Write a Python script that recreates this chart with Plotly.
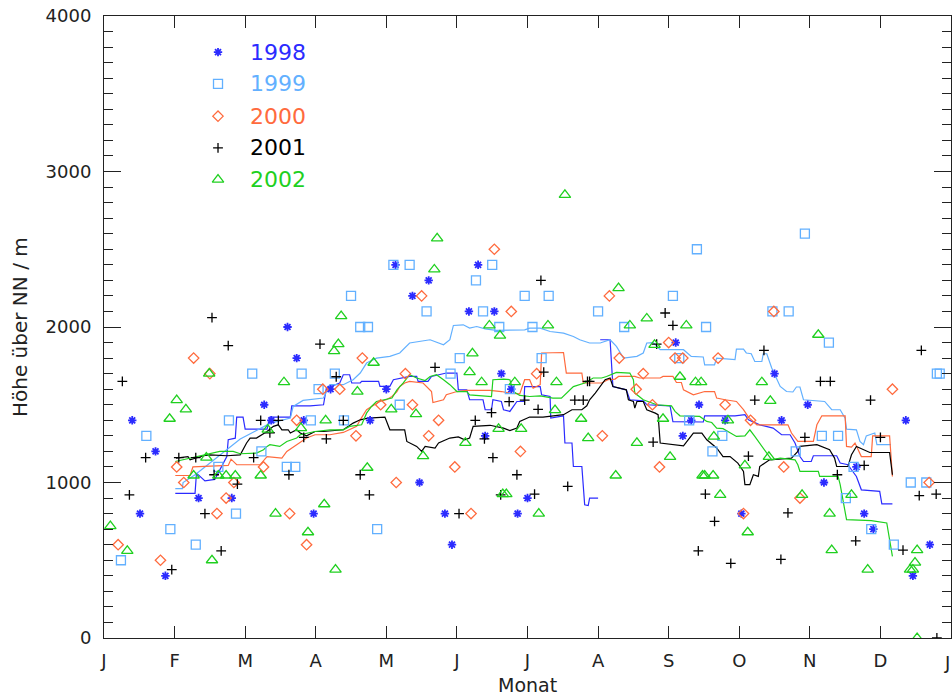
import plotly.graph_objects as go

# ---------------------------------------------------------------------------
# Axis labelling
MONTH_LABELS = ["J", "F", "M", "A", "M", "J", "J", "A", "S", "O", "N", "D", ""]
MONTH_TICKS = list(range(13))
LAST_MONTH_LABEL = "J"
HEIGHT_TICKS = [0, 1000, 2000, 3000, 4000]

YEARS = ["1998", "1999", "2000", "2001", "2002"]
COLORS = {"1998": "#2b2bff", "1999": "#62b0ff", "2000": "#ff6a3d",
          "2001": "#000000", "2002": "#1fd01f"}
SYMBOLS = {"1998": "asterisk-open", "1999": "square-open", "2000": "diamond-open",
           "2001": "cross-thin-open", "2002": "triangle-up-open"}
SIZES = {"1998": 7, "1999": 9, "2000": 8, "2001": 7, "2002": 10}
LINEW = {"1998": 1.8, "1999": 1.3, "2000": 1.3, "2001": 1.3, "2002": 1.3}

# ---------------------------------------------------------------------------
# Single observations: position in months (0 = 1 Jan, 12 = end of Dec), height in m
obs_1998_month = [0.40, 0.51, 0.73, 0.87, 1.34, 1.81, 2.27, 2.37, 2.60, 2.73, 2.83, 2.97,
                  3.21, 3.77, 4.00, 4.13, 4.37, 4.47, 4.60, 4.83, 4.93, 5.17, 5.30, 5.40,
                  5.53, 5.63, 5.77, 5.86, 6.00, 8.10, 8.20, 8.32, 8.43, 8.80, 9.03, 9.50,
                  9.60, 9.97, 10.20, 10.66, 10.77, 10.90, 11.36, 11.46, 11.70]
obs_1998_height = [1400, 800, 1200, 400, 900, 900, 1500, 1400, 2000, 1800, 1400, 800,
                   1600, 1400, 1600, 2400, 2200, 1000, 2300, 800, 600, 2100, 2400, 1300,
                   2100, 1700, 1600, 800, 900, 1900, 1300, 1400, 1500, 1400, 800, 1700,
                   1400, 1500, 1000, 1100, 800, 700, 1400, 400, 600]

obs_1999_month = [0.24, 0.60, 0.94, 1.30, 1.62, 1.77, 1.87, 2.10, 2.23, 2.59,
                  2.71, 2.80, 2.93, 3.04, 3.27, 3.40, 3.50, 3.63, 3.74, 3.87,
                  4.10, 4.19, 4.33, 4.57, 4.91, 5.04, 5.27, 5.37, 5.50, 5.60,
                  5.75, 5.96, 6.07, 6.20, 6.30, 7.00, 7.37, 8.06, 8.15, 8.29,
                  8.40, 8.53, 8.62, 8.76, 9.47, 9.70, 9.80, 9.93, 10.17, 10.27,
                  10.40, 10.51, 10.62, 10.87, 11.19, 11.43, 11.65, 11.80, 11.84]
obs_1999_height = [500, 1300, 700, 600, 1100, 1400, 800, 1700, 1200, 1100,
                   1100, 1700, 1400, 1600, 1700, 1400, 2200, 2000, 2000, 700,
                   2400, 1500, 2400, 2100, 1700, 1800, 2300, 2100, 2400, 2000,
                   1600, 2200, 2000, 1800, 2200, 2100, 2000, 2200, 1800, 1400,
                   2500, 2000, 1200, 1300, 2100, 2100, 1200, 2600, 1300, 1900,
                   1300, 900, 1100, 700, 600, 1000, 1000, 1700, 1700]

obs_2000_month = [0.20, 0.80, 1.03, 1.13, 1.27, 1.50, 1.60, 1.73, 1.84, 2.26,
                  2.63, 2.73, 2.87, 3.10, 3.34, 3.57, 3.66, 3.92, 4.14, 4.27,
                  4.37, 4.50, 4.60, 4.74, 4.97, 5.20, 5.53, 5.77, 5.90, 6.13,
                  7.06, 7.16, 7.30, 7.54, 7.64, 7.77, 7.87, 8.00, 8.09, 8.20,
                  8.70, 8.80, 9.06, 9.16, 9.49, 9.63, 9.86, 11.17, 11.69]
obs_2000_height = [600, 500, 1100, 1000, 1800, 1700, 800, 900, 1000, 1100,
                   800, 1400, 600, 1600, 1600, 1300, 1800, 1500, 1000, 1700,
                   1500, 2200, 1300, 1400, 1100, 800, 2500, 2100, 1200, 1700,
                   1300, 2200, 1800, 1600, 1700, 1500, 1100, 1900, 1800, 1800,
                   1800, 1500, 800, 1400, 2100, 1100, 900, 1600, 1000]

obs_2001_month = [0.26, 0.36, 0.59, 0.96, 1.06, 1.30, 1.43, 1.53, 1.56, 1.66,
                  1.76, 1.89, 2.12, 2.22, 2.35, 2.47, 2.62, 2.83, 3.06, 3.15,
                  3.29, 3.39, 3.63, 3.76, 4.69, 5.03, 5.26, 5.39, 5.49, 5.51,
                  5.62, 5.74, 5.85, 5.96, 6.10, 6.15, 6.19, 6.23, 6.57, 6.67,
                  6.79, 6.85, 6.88, 7.78, 7.83, 7.95, 8.06, 8.42, 8.52, 8.65,
                  8.88, 9.13, 9.22, 9.35, 9.59, 9.69, 9.93, 10.15, 10.29, 10.39,
                  10.65, 10.77, 10.86, 11.00, 11.32, 11.55, 11.58, 11.79, 11.80]
obs_2001_height = [1650, 920, 1160, 440, 1160, 1160, 800, 2060, 1050, 560,
                   1880, 990, 1160, 1400, 1320, 1400, 1050, 1290, 1890, 1280,
                   1680, 1400, 1050, 920, 1740, 800, 1400, 1280, 1450, 1160,
                   920, 1520, 1050, 1530, 925, 1470, 2300, 1710, 975, 1530,
                   1530, 1650, 1650, 1260, 1890, 2090, 2010, 560, 925, 750,
                   480, 1170, 1530, 1850, 505, 805, 1290, 1650, 1650, 1050,
                   625, 1110, 1530, 1290, 565, 915, 1850, 925, 0]

obs_2002_month = [0.09, 0.33, 0.93, 1.03, 1.16, 1.27, 1.45, 1.49, 1.53, 1.62,
                  1.73, 1.86, 2.22, 2.32, 2.43, 2.55, 2.79, 2.89, 3.12, 3.14,
                  3.26, 3.28, 3.32, 3.36, 3.59, 3.73, 3.82, 4.07, 4.42, 4.52,
                  4.68, 4.72, 5.12, 5.18, 5.22, 5.35, 5.46, 5.59, 5.61, 5.65,
                  5.70, 5.82, 5.91, 6.16, 6.29, 6.39, 6.41, 6.53, 6.76, 6.86,
                  7.25, 7.29, 7.45, 7.55, 7.69, 7.80, 7.92, 8.02, 8.16, 8.25,
                  8.38, 8.46, 8.48, 8.51, 8.63, 8.64, 8.73, 8.84, 9.08, 9.12,
                  9.32, 9.42, 9.44, 9.89, 10.12, 10.28, 10.31, 10.59, 10.82, 11.42,
                  11.46, 11.49, 11.52, 11.52]
obs_2002_height = [720, 560, 1410, 1530, 1470, 1045, 1160, 1700, 500, 1045,
                   1045, 1045, 1045, 1340, 800, 1645, 1350, 680, 860, 1400,
                   1845, 440, 1890, 2070, 1585, 1095, 1770, 1470, 1440, 1170,
                   2370, 2570, 1255, 1710, 1830, 1645, 2010, 1345, 1945, 925,
                   925, 1645, 1345, 800, 2010, 1465, 1645, 2850, 1410, 1285,
                   1045, 2250, 2010, 1255, 2055, 1885, 1410, 1165, 1680, 2010,
                   1645, 1645, 1045, 1045, 1045, 1295, 920, 1400, 1110, 680,
                   1645, 1165, 1525, 920, 1950, 800, 565, 920, 440, 440,
                   440, 485, 565, 0]

# ---------------------------------------------------------------------------
# Running-mean curves (None separates interrupted stretches)
run_1998_month = [1.01, 1.29, 1.31, 1.43, 1.57, 1.64, 1.74, 1.76, 1.86, 1.88, 1.97, 2.00,
                  2.31, 2.35, 2.64, 2.66, 2.92, 3.11, 3.15, 3.34, 3.39, 3.48, 3.51, 3.63,
                  3.65, 3.89, 3.91, 4.05, 4.10, 4.33, 4.43, 4.45, 4.59, 4.64, 4.85, 5.00,
                  5.02, 5.14, 5.18, 5.37, 5.40, 5.49, 5.51, 5.63, 5.66, 5.75, 5.85, 5.95,
                  5.96, 6.18, 6.20, 6.32, 6.33, 6.51, 6.53, 6.63, 6.65, 6.77, 6.79, 6.81,
                  6.86, 6.88, 7.00, None,
                  7.03, 7.17, 7.21, 7.40, 7.45, 7.64, 7.69, 8.02, 8.06, 8.49, 8.51, 8.94,
                  9.08, 9.13, 9.29, 9.48, 9.60, 9.72, 9.79, 9.86, 9.91, 10.02, 10.05, 10.38,
                  10.43, 10.54, 10.59, 10.66, 10.73, 10.99, 11.02, 11.17]
run_1998_height = [930, 930, 1060, 1010, 1020, 1080, 1167, 1275, 1285, 1420, 1420, 1343,
                   1343, 1420, 1420, 1493, 1493, 1500, 1607, 1640, 1693, 1693, 1640, 1640,
                   1650, 1650, 1618, 1618, 1661, 1682, 1682, 1650, 1650, 1682, 1704, 1704,
                   1596, 1596, 1532, 1532, 1468, 1468, 1532, 1521, 1468, 1457, 1521, 1521,
                   1617, 1617, 1564, 1553, 1414, 1429, 1254, 1254, 1103, 1103, 953, 857,
                   852, 900, 900, None,
                   1918, 1918, 1617, 1596, 1532, 1525, 1500, 1493, 1392, 1389, 1429, 1429,
                   1436, 1403, 1371, 1350, 1307, 1307, 1254, 1167, 1135, 1135, 1172, 1172,
                   1125, 1114, 1082, 1039, 953, 943, 862, 862]

run_1999_month = [1.01, 1.11, 1.12, 1.29, 1.43, 1.57, 1.71, 1.93, 2.14, 2.35, 2.64, 2.68,
                  2.82, 2.92, 3.11, 3.20, 3.39, 3.53, 3.63, 3.72, 3.86, 4.05, 4.19, 4.33,
                  4.62, 4.81, 4.90, 4.95, 5.09, 5.18, 5.28, 5.40, 5.56, 5.96, 6.03, 6.18,
                  6.32, 6.51, 6.65, 6.74, 6.88, 7.03, 7.17, 7.26, 7.36, 7.55, 7.64, 7.69,
                  7.78, 7.88, 8.21, 8.32, 8.49, 8.51, 8.65, 8.68, 8.94, 8.96, 9.06, 9.10,
                  9.17, 9.22, 9.32, 9.34, 9.39, 9.46, 9.58, 9.67, 9.76, 9.81, 9.86, 9.91,
                  10.21, 10.31, 10.43, 10.50, 10.52, 10.66, 10.71, 10.76, 10.80, 10.92,
                  10.95, 11.15]
run_1999_height = [960, 960, 1000, 1050, 1100, 1150, 1200, 1280, 1330, 1380, 1414, 1489,
                   1528, 1532, 1543, 1629, 1629, 1661, 1704, 1768, 1800, 1811, 1833, 1897,
                   1918, 1886, 1918, 2010, 2014, 1993, 2003, 1988, 1978, 1982, 1993, 1993,
                   1971, 1961, 1939, 1918, 1897, 1897, 1918, 1875, 1800, 1811, 1833, 1897,
                   1900, 1854, 1854, 1811, 1807, 1757, 1757, 1800, 1790, 1858, 1858, 1833,
                   1828, 1778, 1778, 1828, 1828, 1736, 1618, 1585, 1582, 1614, 1614, 1532,
                   1521, 1468, 1468, 1414, 1343, 1339, 1264, 1243, 1300, 1318,
                   1243, 1243]

run_2000_month = [1.01, 1.22, 1.26, 1.76, 1.80, 1.88, 2.21, 2.31, 2.52, 2.59, 2.73, 2.87,
                  2.99, 3.20, 3.39, 3.48, 3.58, 3.63, 3.72, 3.79, 3.91, 4.00, 4.08, 4.15,
                  4.19, 4.26, 4.33, 4.52, 4.57, 4.64, 4.66, 4.81, 4.85, 5.00, 5.14, 5.47,
                  5.63, 5.75, 5.89, 5.96, 6.03, 6.08, 6.18, 6.20, 6.51, 6.55, 6.77, 6.79,
                  7.05, 7.14, 7.24, 7.29, 7.52, 7.59, 7.88, 7.92, 8.06, 8.11, 8.18, 8.21,
                  8.35, 8.51, 8.65, 8.68, 8.80, 8.96, 9.06, 9.13, 9.25, 9.69, 9.74, 9.83,
                  10.05, 10.10, 10.17, 10.50, 10.52, 10.59, 10.64, 10.73, 10.87, 10.89,
                  11.13, 11.17]
run_2000_height = [1045, 1045, 1100, 1110, 1150, 1114, 1114, 1167, 1157, 1200, 1243, 1286,
                   1307, 1307, 1322, 1339, 1361, 1403, 1468, 1489, 1521, 1532, 1553, 1585,
                   1618, 1640, 1650, 1640, 1618, 1585, 1514, 1532, 1564, 1585, 1592, 1592,
                   1585, 1575, 1570, 1661, 1661, 1607, 1629, 1833, 1836, 1704, 1704, 1640,
                   1640, 1661, 1665, 1682, 1682, 1672, 1672, 1682, 1682, 1643, 1643, 1596,
                   1564, 1585, 1585, 1543, 1532, 1521, 1468, 1420, 1371, 1371, 1318, 1264,
                   1264, 1371, 1429, 1429, 1232, 1228, 1254, 1167, 1167, 1300,
                   1300, 1039]

run_2001_month = [1.02, 1.19, 1.22, 1.31, 1.41, 1.50, 1.74, 1.93, 2.02, 2.07, 2.16, 2.31,
                  2.40, 2.47, 2.52, 2.61, 2.64, 2.73, 2.78, 2.87, 2.99, 3.11, 3.39, 3.53,
                  3.63, 3.74, 3.98, 4.05, 4.26, 4.29, 4.43, 4.50, 4.55, 4.69, 4.74, 4.90,
                  5.02, 5.11, 5.18, 5.23, 5.47, 5.66, 5.75, 5.85, 5.89, 6.03, 6.22, 6.51,
                  6.63, 6.77, 6.84, 6.88, 6.96, 7.10, 7.17, 7.21, 7.40, 7.43, 7.50, 7.52,
                  7.55, 7.64, 7.69, 7.81, 7.85, 7.88, 8.21, 8.35, 8.47, 8.54, 8.68, 8.77,
                  8.87, 8.98, 9.06, 9.08, 9.15, 9.20, 9.27, 9.29, 9.43, 9.74, 9.83, 9.86,
                  10.10, 10.28, 10.35, 10.38, 10.54, 10.59, 10.66, 10.85, 11.13, 11.17]
run_2001_height = [1157, 1167, 1146, 1157, 1172, 1178, 1172, 1178, 1254, 1286, 1286, 1328,
                   1361, 1371, 1339, 1339, 1318, 1339, 1318, 1300, 1328, 1328, 1339, 1382,
                   1403, 1414, 1421, 1339, 1339, 1264, 1232, 1200, 1232, 1222, 1254, 1286,
                   1293, 1275, 1286, 1361, 1368, 1350, 1334, 1350, 1392, 1421, 1421, 1436,
                   1468, 1468, 1493, 1532, 1575, 1661, 1672, 1617, 1596, 1532, 1521, 1479,
                   1521, 1521, 1468, 1446, 1436, 1254, 1236, 1318, 1318, 1275, 1222, 1167,
                   1167, 1125, 1071, 986, 986, 1050, 1039, 1103, 1146, 1157, 1200, 1232,
                   1243, 1211, 1157, 1103, 1103, 1178, 1232, 1193, 1193, 1050]

run_2002_month = [1.01, 1.31, 1.55, 1.64, 1.83, 1.93, 2.16, 2.26, 2.31, 2.35, 2.49, 2.59,
                  2.73, 2.78, 2.99, 3.20, 3.39, 3.48, 3.65, 3.72, 3.79, 3.86, 4.08, 4.15,
                  4.24, 4.31, 4.33, 4.43, 4.55, 4.62, 4.71, 4.81, 4.90, 5.00, 5.14, 5.18,
                  5.49, 5.51, 5.66, 5.75, 5.80, 5.89, 6.03, 6.18, 6.36, 6.48, 6.65, 6.81,
                  6.93, 7.05, 7.12, 7.26, 7.45, 7.50, 7.52, 7.64, 7.83, 8.04, 8.09, 8.16,
                  8.44, 8.54, 8.61, 8.68, 8.77, 8.87, 8.96, 9.08, 9.15, 9.22, 9.29, 9.39,
                  9.46, 9.58, 9.79, 9.83, 9.86, 10.12, 10.14, 10.40, 10.43, 10.52, 10.87,
                  11.09, 11.17]
run_2002_height = [1135, 1167, 1189, 1200, 1200, 1185, 1189, 1211, 1232, 1243, 1232, 1264,
                   1286, 1307, 1328, 1339, 1339, 1361, 1371, 1446, 1489, 1521, 1543, 1596,
                   1640, 1682, 1693, 1672, 1656, 1682, 1693, 1661, 1629, 1585, 1585, 1564,
                   1553, 1661, 1665, 1661, 1585, 1560, 1553, 1557, 1543, 1543, 1617, 1640,
                   1672, 1672, 1682, 1708, 1704, 1661, 1575, 1532, 1500, 1493, 1457, 1429,
                   1425, 1393, 1386, 1350, 1346, 1320, 1296, 1300, 1339, 1296, 1254, 1189,
                   1146, 1157, 1146, 1114, 1071, 1071, 1039, 1039, 986, 761, 755,
                   740, 525]

OBS = {
    "1998": (obs_1998_month, obs_1998_height),
    "1999": (obs_1999_month, obs_1999_height),
    "2000": (obs_2000_month, obs_2000_height),
    "2001": (obs_2001_month, obs_2001_height),
    "2002": (obs_2002_month, obs_2002_height),
}
RUN = {
    "1998": (run_1998_month, run_1998_height),
    "1999": (run_1999_month, run_1999_height),
    "2000": (run_2000_month, run_2000_height),
    "2001": (run_2001_month, run_2001_height),
    "2002": (run_2002_month, run_2002_height),
}

FONT = "DejaVu Sans"
TEXT_COL = "#222222"
fig = go.Figure()

# running means first, then the single observations on top
for yr in YEARS:
    mx, hy = RUN[yr]
    fig.add_trace(go.Scatter(x=mx, y=hy, mode="lines", connectgaps=False,
                             line=dict(color=COLORS[yr], width=1.2),
                             hoverinfo="skip", showlegend=False))

for yr in YEARS:
    mx, hy = OBS[yr]
    fig.add_trace(go.Scatter(
        x=mx, y=hy, mode="markers", name=yr, showlegend=False,
        marker=dict(symbol=SYMBOLS[yr], size=SIZES[yr], color=COLORS[yr],
                    line=dict(color=COLORS[yr], width=LINEW[yr]))))

# key in the upper left corner (drawn on a hidden 0..1 overlay)
key_rows = [0.942, 0.891, 0.839, 0.788, 0.737]
for yr, ky in zip(YEARS, key_rows):
    fig.add_trace(go.Scatter(
        x=[0.1346], y=[ky], xaxis="x2", yaxis="y2", mode="markers",
        showlegend=False, hoverinfo="skip",
        marker=dict(symbol=SYMBOLS[yr], size=SIZES[yr], color=COLORS[yr],
                    line=dict(color=COLORS[yr], width=LINEW[yr]))))
    fig.add_annotation(x=0.170, y=ky, xref="paper", yref="paper", text=yr,
                       showarrow=False, xanchor="left", yanchor="middle",
                       font=dict(family=FONT, size=22, color=COLORS[yr]))

axis_col = "#222222"
fig.update_layout(
    width=952, height=697,
    margin=dict(l=104, r=1, t=16, b=59),
    paper_bgcolor="white", plot_bgcolor="white",
    showlegend=False,
    xaxis=dict(range=[0, 12], tickvals=MONTH_TICKS, ticktext=MONTH_LABELS,
               ticks="inside", ticklen=12, tickwidth=1, tickcolor=axis_col,
               showline=True, linecolor=axis_col, linewidth=1, mirror="ticks",
               showgrid=False, zeroline=False, ticklabelstandoff=6,
               tickfont=dict(family=FONT, size=18, color=TEXT_COL)),
    yaxis=dict(range=[0, 4000], tickvals=HEIGHT_TICKS,
               ticks="inside", ticklen=17, tickwidth=1, tickcolor=axis_col,
               minor=dict(dtick=100, ticks="inside", ticklen=9, tickwidth=1,
                          tickcolor=axis_col, showgrid=False),
               showline=True, linecolor=axis_col, linewidth=1, mirror="ticks",
               showgrid=False, zeroline=False, ticklabelstandoff=8,
               tickfont=dict(family=FONT, size=18, color=TEXT_COL)),
    xaxis2=dict(overlaying="x", range=[0, 1], visible=False, anchor="y2"),
    yaxis2=dict(overlaying="y", range=[0, 1], visible=False, anchor="x2"),
)

# month label at the right end of the axis, nudged inside the page
fig.add_annotation(x=12, y=0, xref="x", yref="paper", yshift=-24, xshift=-4,
                   text=LAST_MONTH_LABEL, showarrow=False,
                   xanchor="center", yanchor="middle",
                   font=dict(family=FONT, size=18, color=TEXT_COL))

fig.add_annotation(x=0, y=0.5, xref="paper", yref="paper", xshift=-84,
                   text="Höhe über NN / m", textangle=-90, showarrow=False,
                   xanchor="center", yanchor="middle",
                   font=dict(family=FONT, size=20, color=TEXT_COL))
fig.add_annotation(x=0.5, y=0, xref="paper", yref="paper", yshift=-47,
                   text="Monat", showarrow=False, xanchor="center", yanchor="middle",
                   font=dict(family=FONT, size=19, color=TEXT_COL))

fig.write_html("out.html")
